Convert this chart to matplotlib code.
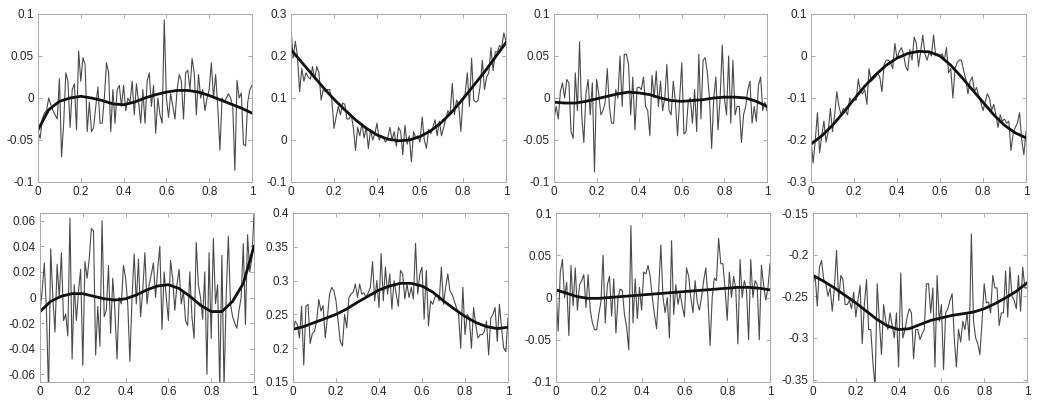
import matplotlib
matplotlib.use("Agg")
import matplotlib.pyplot as plt
import numpy as np
from matplotlib.ticker import FormatStrFormatter

plt.rcParams["font.family"] = ["Liberation Sans", "DejaVu Sans"]
plt.rcParams["axes.unicode_minus"] = False

# sample grids: raw signal every 0.01, fitted trend every 0.05
x_raw = np.linspace(0, 1, 101)
x_fit = np.linspace(0, 1, 21)

raw_1 = [-0.040, -0.048, -0.025, -0.018, -0.015, 0.000, -0.008, -0.015, -0.020, -0.025,
         0.023, -0.070, -0.030, 0.030, 0.020, -0.035, 0.010, 0.017, -0.038, 0.056,
         0.020, 0.048, 0.040, -0.040, -0.005, -0.040, -0.035, -0.010, 0.013, -0.030,
         -0.030, 0.000, 0.042, 0.030, -0.040, 0.010, -0.030, 0.010, 0.015, -0.010,
         0.015, -0.015, 0.000, -0.005, 0.020, -0.020, 0.017, -0.005, -0.030, 0.010,
         -0.030, 0.020, 0.030, -0.010, 0.015, -0.042, 0.000, -0.020, -0.030, 0.093,
         0.000, -0.023, 0.005, -0.010, -0.025, 0.010, 0.028, 0.020, -0.025, 0.030,
         0.033, 0.010, 0.047, 0.030, -0.020, 0.028, 0.000, 0.010, -0.015, 0.000,
         0.010, 0.042, 0.000, 0.028, -0.010, -0.062, 0.000, -0.005, 0.000, 0.005,
         0.000, -0.010, -0.086, 0.021, 0.000, 0.006, -0.055, -0.057, -0.005, 0.010,
         0.015]
fit_1 = [-0.038, -0.014, -0.004, 0.000, 0.002, 0.000, -0.003, -0.007, -0.008, -0.005,
         0.000, 0.004, 0.007, 0.009, 0.009, 0.007, 0.003, -0.002, -0.007, -0.012, -0.018]

raw_2 = [0.265, 0.195, 0.235, 0.200, 0.115, 0.170, 0.140, 0.160, 0.150, 0.145,
         0.175, 0.145, 0.175, 0.160, 0.095, 0.120, 0.115, 0.120, 0.120, 0.095,
         0.028, 0.055, 0.080, 0.060, 0.088, 0.085, 0.050, 0.050, 0.060, 0.030,
         -0.025, 0.030, 0.010, 0.040, 0.005, 0.030, -0.020, 0.025, 0.000, 0.015,
         0.040, 0.000, 0.010, 0.005, -0.005, 0.005, 0.030, 0.000, 0.020, -0.015,
         0.030, 0.020, -0.035, 0.035, -0.010, 0.010, -0.052, 0.020, 0.005, 0.010,
         -0.005, 0.055, 0.000, -0.020, 0.025, 0.015, 0.030, 0.048, 0.010, 0.045,
         0.010, 0.030, 0.050, 0.070, 0.060, 0.135, 0.060, 0.095, 0.085, 0.020,
         0.100, 0.110, 0.160, 0.080, 0.195, 0.095, 0.090, 0.095, 0.130, 0.190,
         0.120, 0.150, 0.160, 0.220, 0.165, 0.210, 0.210, 0.225, 0.220, 0.255,
         0.235]
fit_2 = [0.215, 0.185, 0.155, 0.125, 0.097, 0.072, 0.048, 0.028, 0.012, 0.002,
         -0.002, 0.000, 0.008, 0.022, 0.042, 0.068, 0.098, 0.130, 0.162, 0.197, 0.232]

raw_3 = [-0.025, -0.010, -0.025, 0.008, 0.018, 0.000, 0.022, 0.018, -0.040, -0.048,
         0.030, -0.015, 0.067, -0.020, -0.053, 0.005, 0.022, -0.020, 0.018, -0.088,
         0.022, 0.005, -0.020, -0.015, -0.005, 0.035, -0.010, -0.030, -0.030, 0.010,
         0.000, 0.050, -0.010, 0.052, 0.052, 0.040, -0.020, 0.025, -0.038, 0.012,
         0.013, 0.010, 0.025, -0.010, -0.015, -0.045, 0.027, 0.000, 0.032, -0.010,
         0.020, -0.015, 0.000, 0.040, -0.015, -0.020, 0.020, -0.005, -0.045, 0.000,
         0.042, -0.043, -0.040, -0.005, 0.000, -0.030, 0.010, -0.040, 0.052, -0.025,
         0.045, 0.048, 0.030, 0.000, -0.060, 0.000, 0.025, -0.038, 0.000, 0.063,
         0.000, -0.020, 0.050, -0.030, 0.045, -0.020, -0.010, -0.010, -0.053, -0.020,
         -0.010, 0.010, 0.020, -0.030, -0.010, -0.028, 0.015, 0.025, -0.015, -0.005,
         -0.015]
fit_3 = [-0.005, -0.006, -0.006, -0.004, -0.001, 0.002, 0.005, 0.007, 0.006, 0.004,
         0.000, -0.003, -0.004, -0.003, -0.002, 0.000, 0.001, 0.001, 0.000, -0.004, -0.010]

raw_4 = [-0.200, -0.255, -0.200, -0.135, -0.230, -0.190, -0.155, -0.205, -0.180, -0.125,
         -0.180, -0.140, -0.085, -0.120, -0.140, -0.125, -0.130, -0.140, -0.100, -0.110,
         -0.105, -0.105, -0.055, -0.085, -0.090, -0.080, -0.115, -0.030, -0.060, -0.055,
         -0.050, -0.040, -0.050, -0.085, -0.020, -0.010, -0.010, -0.015, -0.030, 0.030,
         -0.005, 0.010, 0.020, 0.005, -0.025, -0.035, 0.015, -0.010, 0.045, 0.030,
         -0.025, 0.010, 0.050, 0.005, -0.010, 0.010, 0.000, 0.050, 0.000, 0.005,
         0.000, 0.005, -0.010, 0.020, -0.040, -0.030, -0.100, -0.030, -0.015, -0.010,
         -0.010, -0.035, -0.055, -0.090, -0.060, -0.050, -0.085, -0.075, -0.095, -0.110,
         -0.130, -0.110, -0.090, -0.100, -0.130, -0.115, -0.140, -0.170, -0.140, -0.155,
         -0.150, -0.160, -0.155, -0.225, -0.185, -0.170, -0.160, -0.135, -0.200, -0.235,
         -0.180]
fit_4 = [-0.210, -0.190, -0.165, -0.135, -0.103, -0.072, -0.045, -0.022, -0.005, 0.006,
         0.011, 0.010, 0.000, -0.022, -0.050, -0.080, -0.110, -0.140, -0.165, -0.183, -0.195]

raw_5 = [-0.010, 0.005, 0.027, -0.010, -0.075, 0.038, 0.000, -0.027, 0.026, 0.000,
         0.035, -0.018, -0.013, -0.030, 0.062, -0.048, 0.010, -0.018, 0.005, 0.022,
         -0.053, 0.028, 0.015, 0.030, 0.054, 0.052, -0.045, -0.007, -0.038, 0.060,
         -0.015, -0.010, 0.025, -0.028, 0.015, -0.010, -0.048, 0.000, -0.005, 0.025,
         0.015, -0.005, -0.050, 0.000, 0.034, -0.005, 0.030, -0.015, 0.005, 0.035,
         -0.005, 0.010, 0.018, 0.027, 0.000, 0.022, 0.040, -0.025, 0.020, 0.000,
         -0.018, 0.029, 0.015, -0.010, 0.010, 0.022, -0.005, 0.005, -0.018, -0.022,
         0.020, -0.015, -0.032, 0.043, 0.010, 0.000, -0.017, 0.020, -0.060, 0.035,
         -0.032, 0.046, -0.005, 0.010, -0.070, 0.033, -0.070, 0.000, 0.048, -0.005,
         -0.015, -0.020, -0.024, -0.010, 0.000, 0.042, -0.021, 0.049, 0.020, 0.030,
         0.065]
fit_5 = [-0.011, -0.003, 0.001, 0.003, 0.003, 0.001, -0.001, -0.002, -0.001, 0.002,
         0.006, 0.009, 0.010, 0.007, 0.001, -0.006, -0.011, -0.011, -0.003, 0.011, 0.040]

raw_6 = [0.225, 0.240, 0.235, 0.215, 0.262, 0.175, 0.262, 0.265, 0.207, 0.222,
         0.225, 0.240, 0.272, 0.255, 0.263, 0.215, 0.245, 0.280, 0.290, 0.285,
         0.270, 0.240, 0.210, 0.203, 0.250, 0.230, 0.275, 0.280, 0.283, 0.295,
         0.275, 0.295, 0.280, 0.282, 0.275, 0.282, 0.290, 0.328, 0.270, 0.300,
         0.260, 0.340, 0.270, 0.320, 0.280, 0.310, 0.258, 0.300, 0.280, 0.262,
         0.315, 0.310, 0.273, 0.295, 0.275, 0.290, 0.273, 0.355, 0.280, 0.310,
         0.320, 0.243, 0.315, 0.233, 0.270, 0.265, 0.275, 0.280, 0.270, 0.320,
         0.265, 0.290, 0.310, 0.285, 0.280, 0.270, 0.260, 0.250, 0.200, 0.290,
         0.220, 0.250, 0.245, 0.200, 0.260, 0.235, 0.215, 0.220, 0.220, 0.225,
         0.240, 0.190, 0.245, 0.250, 0.260, 0.210, 0.265, 0.230, 0.200, 0.195,
         0.245]
fit_6 = [0.228, 0.232, 0.238, 0.244, 0.250, 0.258, 0.268, 0.277, 0.286, 0.292,
         0.296, 0.296, 0.292, 0.283, 0.270, 0.258, 0.247, 0.238, 0.232, 0.229, 0.231]

raw_7 = [0.010, -0.040, 0.030, 0.045, 0.000, 0.018, -0.045, 0.038, -0.010, 0.035,
         -0.015, 0.015, 0.020, 0.027, -0.012, 0.027, -0.015, -0.030, -0.038, -0.038,
         -0.020, -0.005, 0.050, -0.030, 0.015, 0.025, -0.022, 0.022, -0.042, 0.000,
         0.010, 0.008, -0.020, -0.035, -0.062, 0.085, -0.030, 0.022, -0.025, 0.012,
         -0.015, 0.030, 0.028, 0.038, 0.025, 0.000, -0.020, -0.037, 0.010, 0.062,
         0.000, -0.018, 0.000, -0.048, 0.067, -0.020, 0.015, -0.008, 0.005, -0.010,
         -0.023, 0.035, 0.025, 0.000, -0.018, 0.020, -0.005, -0.015, 0.000, 0.020,
         0.035, 0.000, -0.057, 0.000, 0.023, 0.020, 0.070, 0.040, 0.040, 0.010,
         -0.027, 0.030, 0.000, 0.025, 0.010, -0.055, 0.045, 0.000, 0.020, 0.010,
         -0.050, 0.045, 0.000, 0.020, 0.015, -0.050, 0.038, 0.015, -0.003, 0.010,
         0.040]
fit_7 = [0.009, 0.005, 0.001, -0.001, -0.001, 0.000, 0.001, 0.002, 0.003, 0.004,
         0.005, 0.006, 0.007, 0.008, 0.009, 0.010, 0.011, 0.012, 0.012, 0.011, 0.009]

raw_8 = [-0.235, -0.225, -0.262, -0.215, -0.207, -0.230, -0.235, -0.250, -0.240, -0.268,
         -0.240, -0.195, -0.255, -0.225, -0.230, -0.260, -0.260, -0.255, -0.265, -0.245,
         -0.275, -0.255, -0.237, -0.307, -0.260, -0.230, -0.290, -0.290, -0.330, -0.360,
         -0.235, -0.280, -0.320, -0.260, -0.280, -0.290, -0.270, -0.285, -0.300, -0.270,
         -0.335, -0.222, -0.300, -0.290, -0.275, -0.265, -0.270, -0.325, -0.290, -0.290,
         -0.302, -0.295, -0.290, -0.235, -0.235, -0.270, -0.240, -0.335, -0.225, -0.280,
         -0.260, -0.338, -0.270, -0.265, -0.255, -0.247, -0.300, -0.335, -0.290, -0.305,
         -0.280, -0.290, -0.270, -0.303, -0.175, -0.280, -0.300, -0.307, -0.320, -0.280,
         -0.235, -0.258, -0.257, -0.270, -0.225, -0.240, -0.240, -0.285, -0.270, -0.270,
         -0.220, -0.275, -0.215, -0.250, -0.255, -0.265, -0.225, -0.268, -0.215, -0.240,
         -0.240]
fit_8 = [-0.225, -0.232, -0.240, -0.249, -0.258, -0.268, -0.278, -0.286, -0.290, -0.289,
         -0.284, -0.279, -0.276, -0.273, -0.271, -0.269, -0.265, -0.259, -0.252, -0.244, -0.234]

y_limits = [(-0.1, 0.1), (-0.1, 0.3), (-0.1, 0.1), (-0.3, 0.1),
            (-0.066, 0.066), (0.15, 0.4), (-0.1, 0.1), (-0.353, -0.15)]
y_ticks = [[-0.1, -0.05, 0, 0.05, 0.1],
           [-0.1, 0, 0.1, 0.2, 0.3],
           [-0.1, -0.05, 0, 0.05, 0.1],
           [-0.3, -0.2, -0.1, 0, 0.1],
           [-0.06, -0.04, -0.02, 0, 0.02, 0.04, 0.06],
           [0.15, 0.2, 0.25, 0.3, 0.35, 0.4],
           [-0.1, -0.05, 0, 0.05, 0.1],
           [-0.35, -0.3, -0.25, -0.2, -0.15]]
x_ticks = [0, 0.2, 0.4, 0.6, 0.8, 1]

raw_series = [raw_1, raw_2, raw_3, raw_4, raw_5, raw_6, raw_7, raw_8]
fit_series = [fit_1, fit_2, fit_3, fit_4, fit_5, fit_6, fit_7, fit_8]

# axes boxes in pixels: left, right, top, bottom
W, H = 1040, 401
boxes = [(38, 252, 14, 182), (291, 506, 14, 182), (554, 767, 14, 182), (811, 1026, 14, 182),
         (40, 254, 213, 382), (293, 508, 213, 382), (556, 770, 213, 382), (813, 1027, 213, 382)]

fig = plt.figure(figsize=(W / 100, H / 100), dpi=100)
fig.patch.set_facecolor("white")

for k in range(8):
    l, r, t, b = boxes[k]
    ax = fig.add_axes([l / W, 1 - b / H, (r - l) / W, (b - t) / H])
    ax.plot(x_raw, raw_series[k], color="#4a4a4a", lw=0.8)
    ax.plot(x_fit, fit_series[k], color="#111111", lw=2.0)
    ax.set_xlim(0, 1)
    ax.set_ylim(*y_limits[k])
    ax.set_xticks(x_ticks)
    ax.set_yticks(y_ticks[k])
    ax.xaxis.set_major_formatter(FormatStrFormatter("%g"))
    ax.yaxis.set_major_formatter(FormatStrFormatter("%g"))
    ax.tick_params(direction="in", length=3, width=0.5, color="#888888",
                   top=True, right=True, labelsize=8.5, labelcolor="#262626", pad=3)
    for side in ax.spines.values():
        side.set_color("#a8a8a8")
        side.set_linewidth(0.7)

fig.savefig("out.png", dpi=100)
